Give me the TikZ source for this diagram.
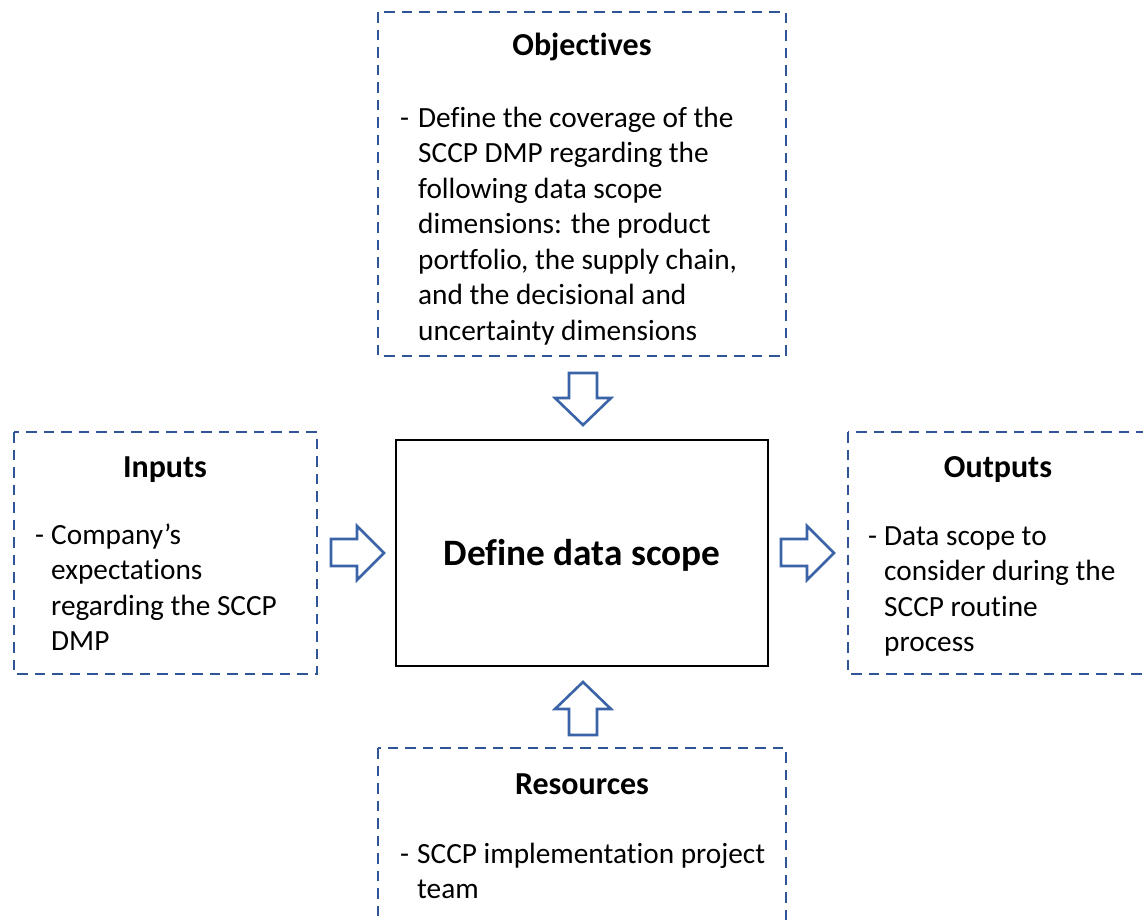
\documentclass[tikz,border=0pt]{standalone}
\usepackage{fontspec}
\setmainfont{Carlito}[Ligatures={NoCommon}]
\definecolor{frameblue}{HTML}{2F5597}
\definecolor{arrowblue}{HTML}{3A63A8}
\begin{document}
\begin{tikzpicture}[x=1pt,y=-1pt,
  dashbox/.style={draw=frameblue,line width=2.5pt,dash pattern=on 10.5pt off 7pt},
  mainbox/.style={draw=black,line width=2.4pt},
  blockarrow/.style={draw=arrowblue,line width=2.6pt,fill=white,line join=miter},
  title/.style={font=\fontsize{32}{38}\selectfont\bfseries,inner sep=0pt,anchor=base},
  body/.style={font=\fontsize{29.3}{35.5}\selectfont,inner sep=0pt,anchor=base west,align=left},
  dashmark/.style={font=\fontsize{29.3}{35.5}\selectfont,inner sep=0pt,anchor=base west}]
\useasboundingbox (0,0) rectangle (1143,922);
\clip (0,0) rectangle (1143,922);

% boxes
\draw[dashbox] (378,12) rectangle (786,356);
\draw[dashbox] (14,432) rectangle (317,674);
\draw[dashbox] (848,432) rectangle (1149,674);
\draw[dashbox] (378,748) rectangle (786,945);
\draw[mainbox] (396,440) rectangle (768,666);

% main text
\node[font=\fontsize{37.3}{44}\selectfont\bfseries,inner sep=0pt,anchor=base] (main) at (582,565) {Define data scope};

% Objectives (body anchored at baseline of last line)
\node[title] (objt) at (582,55) {Objectives};
\node[dashmark] (objd) at (400,127) {-};
\node[body] (objb) at (418,340) {Define the coverage of the\\SCCP DMP regarding the\\following data scope\\dimensions: the product\\portfolio, the supply chain,\\and the decisional and\\uncertainty dimensions};

% Inputs
\node[title] (inpt) at (165,477) {Inputs};
\node[dashmark] (inpd) at (35,544) {-};
\node[body] (inpb) at (51,650.5) {Company’s\\expectations\\regarding the SCCP\\DMP};

% Outputs
\node[title] (outt) at (998,477) {Outputs};
\node[dashmark] (outd) at (868,545) {-};
\node[body] (outb) at (884,651.5) {Data scope to\\consider during the\\SCCP routine\\process};

% Resources
\node[title] (rest) at (582,794) {Resources};
\node[dashmark] (resd) at (400,863) {-};
\node[body] (resb) at (417,898.5) {SCCP implementation project\\team};

% block arrows
\draw[blockarrow] (569,373) -- (597,373) -- (597,398) -- (611,398) -- (583,425) -- (555,398) -- (569,398) -- cycle;
\draw[blockarrow] (569,735) -- (597,735) -- (597,709) -- (611,709) -- (583,682) -- (555,709) -- (569,709) -- cycle;
\draw[blockarrow] (331,539) -- (357,539) -- (357,526) -- (384,553) -- (357,580) -- (357,566) -- (331,566) -- cycle;
\draw[blockarrow] (781,539) -- (807,539) -- (807,526) -- (834,553) -- (807,580) -- (807,566) -- (781,566) -- cycle;
\end{tikzpicture}
\end{document}
